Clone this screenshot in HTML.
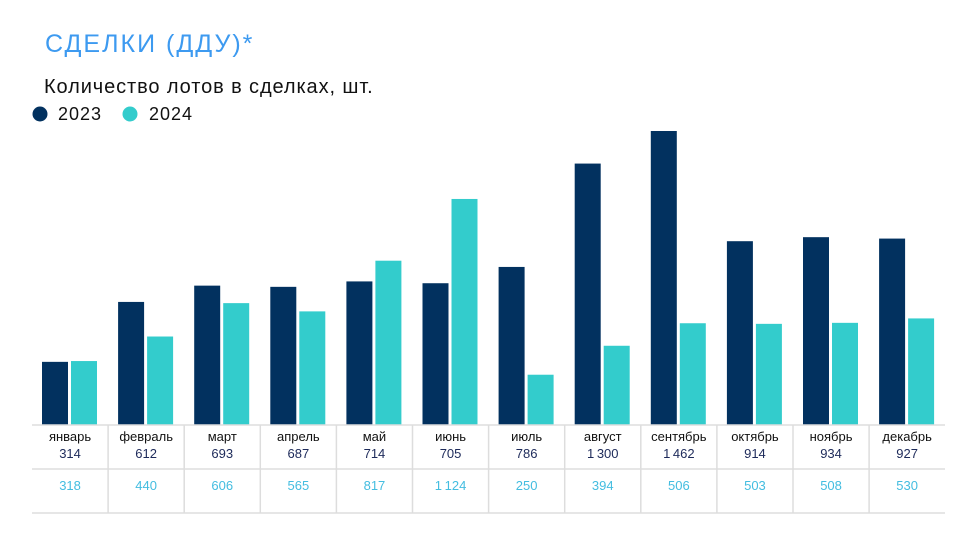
<!DOCTYPE html><html><head><meta charset="utf-8"><style>body{margin:0;background:#fff}svg{display:block}text{font-family:"Liberation Sans","DejaVu Sans",sans-serif}</style></head><body>
<svg width="963" height="536" viewBox="0 0 963 536" xmlns="http://www.w3.org/2000/svg">
<text x="45" y="52" font-size="25" fill="#3d9af0" letter-spacing="2">СДЕЛКИ (ДДУ)*</text>
<text x="44" y="93" font-size="20" fill="#111" letter-spacing="0.9">Количество лотов в сделках, шт.</text>
<circle cx="40" cy="114" r="7.5" fill="#02315f"/><text x="58" y="120" font-size="18" fill="#111" letter-spacing="1">2023</text>
<circle cx="130" cy="114" r="7.5" fill="#33cccc"/><text x="149" y="120" font-size="18" fill="#111" letter-spacing="1">2024</text>
<g id="g"></g>
<line x1="32" y1="425" x2="945" y2="425" stroke="#ddd" stroke-width="1.5"/>
<line x1="32" y1="469" x2="945" y2="469" stroke="#ddd" stroke-width="1.5"/>
<line x1="32" y1="513" x2="945" y2="513" stroke="#ddd" stroke-width="1.5"/>
</svg>
<script>
var m=["январь","февраль","март","апрель","май","июнь","июль","август","сентябрь","октябрь","ноябрь","декабрь"];
var a=[314,612,693,687,714,705,786,1300,1462,914,934,927],b=[318,440,606,565,817,1124,250,394,506,503,508,530];
var f=function(n){return n>=1000?Math.floor(n/1000)+"\u2009"+String(n%1000).padStart(3,"0"):String(n)};
var s="",k=0.2011,w=76.1;
for(var i=0;i<12;i++){var x=32+w*i,h1=a[i]*k,h2=b[i]*k;
s+='<rect x="'+(x+10)+'" y="'+(425-h1)+'" width="26" height="'+h1+'" fill="#02315f"/>';
s+='<rect x="'+(x+39)+'" y="'+(425-h2)+'" width="26" height="'+h2+'" fill="#33cccc"/>';
if(i>0)s+='<line x1="'+x+'" y1="425" x2="'+x+'" y2="513" stroke="#ddd" stroke-width="1.5"/>';
var c=x+w/2;
s+='<text x="'+c+'" y="441" font-size="13" fill="#111" text-anchor="middle">'+m[i]+'</text>';
s+='<text x="'+c+'" y="458" font-size="13" fill="#1d2a5a" text-anchor="middle">'+f(a[i])+'</text>';
s+='<text x="'+c+'" y="490" font-size="13" fill="#44bde0" text-anchor="middle">'+f(b[i])+'</text>';}
document.getElementById("g").innerHTML=s;
</script>
</body></html>
